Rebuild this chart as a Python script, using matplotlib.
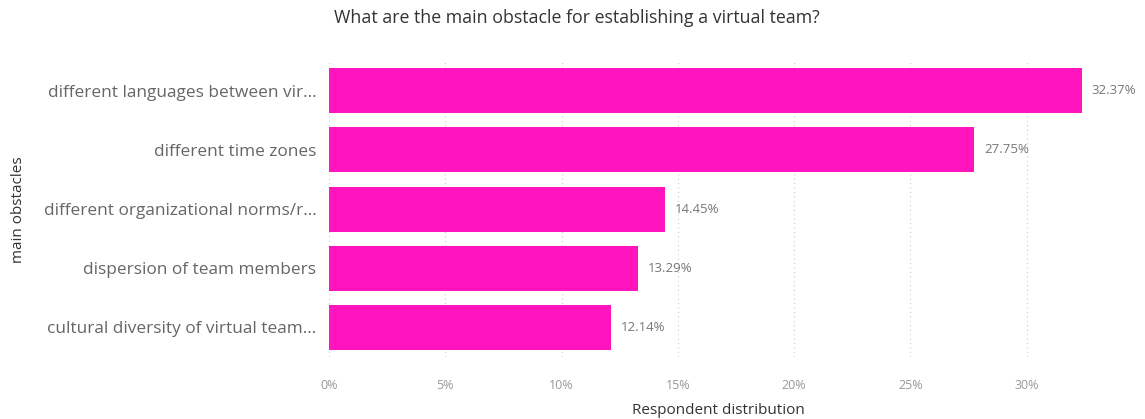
import matplotlib
matplotlib.use("Agg")
import matplotlib.pyplot as plt
from matplotlib.ticker import FuncFormatter

categories = [
    "different languages between vir...",
    "different time zones",
    "different organizational norms/r...",
    "dispersion of team members",
    "cultural diversity of virtual team...",
]
values = [32.37, 27.75, 14.45, 13.29, 12.14]
xticks = [0, 5, 10, 15, 20, 25, 30]

title = "What are the main obstacle for establishing a virtual team?"
xlabel = "Respondent distribution"
ylabel = "main obstacles"

bar_color = "#FF14BE"

plt.rcParams["font.family"] = ["Open Sans", "DejaVu Sans"]

fig = plt.figure(figsize=(11.45, 4.19), dpi=100)
ax = fig.add_axes([0.2873, 0.148, 0.6804, 0.706])

ypos = list(range(len(categories)))
ax.barh(ypos, values, height=0.76, color=bar_color)
ax.set_ylim(len(categories) - 0.5, -0.5)
ax.set_xlim(0, 33.5)
ax.set_yticks(ypos)
ax.set_yticklabels(categories, fontsize=12.4, color="#666666")
ax.set_xticks(xticks)
ax.xaxis.set_major_formatter(FuncFormatter(lambda v, p: f"{v:.0f}%"))
ax.tick_params(axis="x", labelsize=9, labelcolor="#999999", length=0, pad=16)
ax.tick_params(axis="y", length=0, pad=9)

for s in ax.spines.values():
    s.set_visible(False)
ax.grid(axis="x", color="#cccccc", linestyle=(0, (1, 3)), linewidth=0.8)
ax.set_axisbelow(True)

for y, v in zip(ypos, values):
    ax.text(v + 0.43, y, f"{v:.2f}%", va="center", ha="left", fontsize=9.5, color="#777777")

ax.set_xlabel(xlabel, fontsize=11, color="#333333", labelpad=8)
fig.text(0.016, 0.5, ylabel, rotation=90, va="center", ha="center", fontsize=11, color="#333333")
fig.text(0.504, 0.957, title, ha="center", va="center", fontsize=12.8, color="#333333", weight="medium")

fig.savefig("out.png", dpi=100)
